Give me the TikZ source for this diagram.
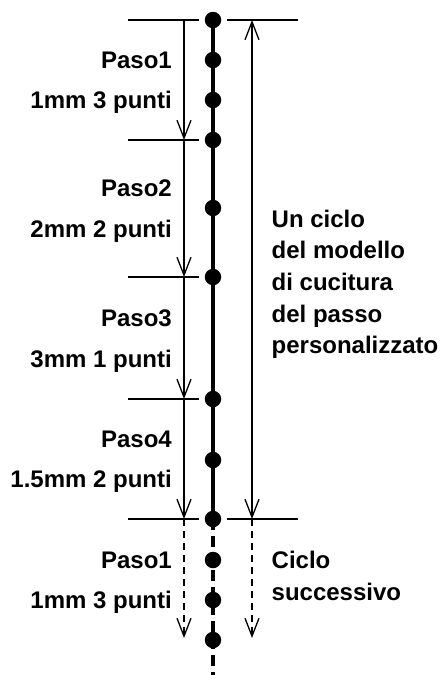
\documentclass[tikz,border=0pt]{standalone}
\usepackage{fontspec}
\setmainfont{Liberation Sans}
\usetikzlibrary{arrows.meta}
\begin{document}
\begin{tikzpicture}[x=1pt,y=-1pt,
  lbl/.style={inner sep=0pt,font=\bfseries\fontsize{24}{28}\selectfont},
  lt/.style={lbl,anchor=base east},
  rt/.style={lbl,anchor=base west},
  stitch/.style={circle,fill=black,inner sep=0pt,minimum size=16.5pt},
  tick/.style={line width=1.3pt},
  dim/.style={line width=1.3pt,-{Straight Barb[length=18pt,width=14pt,line width=1.3pt]}},
  dimboth/.style={line width=1.3pt,{Straight Barb[length=18pt,width=14pt,line width=1.3pt]}-{Straight Barb[length=18pt,width=14pt,line width=1.3pt]}},
  dimdash/.style={dim,dash pattern=on 7pt off 5pt},
  seam/.style={line width=3.6pt},
  seamdash/.style={line width=3.6pt,dash pattern=on 11pt off 6pt}]
\useasboundingbox (0,0) rectangle (441,675);
% seam
\coordinate (send) at (213,675);
\node[stitch] (s1) at (213,20) {};
\node[stitch] (s2) at (213,60) {};
\node[stitch] (s3) at (213,100) {};
\node[stitch] (s4) at (213,140) {};
\node[stitch] (s5) at (213,208) {};
\node[stitch] (s6) at (213,277) {};
\node[stitch] (s7) at (213,399) {};
\node[stitch] (s8) at (213,460) {};
\node[stitch] (s9) at (213,519) {};
\node[stitch] (s10) at (213,560) {};
\node[stitch] (s11) at (213,600) {};
\node[stitch] (s12) at (213,640) {};
\draw[seam] (s1.center) -- (s9.center);
\draw[seamdash] (s9.center) -- (send);
% ticks
\foreach \n/\y in {a/20,b/140,c/277,d/399,e/519}{
  \coordinate (tl\n) at (128,\y);
  \coordinate (tr\n) at (199,\y);
  \draw[tick] (tl\n) -- (tr\n);
}
\coordinate (ra1) at (227,20); \coordinate (ra2) at (298,20);
\coordinate (rb1) at (227,519); \coordinate (rb2) at (298,519);
\draw[tick] (ra1) -- (ra2);
\draw[tick] (rb1) -- (rb2);
% left dimension arrows
\coordinate (L0) at (184,20);
\coordinate (L1) at (184,140);
\coordinate (L2) at (184,277);
\coordinate (L3) at (184,399);
\coordinate (L4) at (184,519);
\coordinate (L5) at (184,638);
\draw[dim] (L0) -- (L1);
\draw[dim] (L1) -- (L2);
\draw[dim] (L2) -- (L3);
\draw[dim] (L3) -- (L4);
\draw[dimdash] (L4) -- (L5);
% right dimension arrows
\coordinate (R0) at (252,20);
\coordinate (R1) at (252,519);
\coordinate (R2) at (252,638);
\draw[dimboth] (R0) -- (R1);
\draw[dimdash] (R1) -- (R2);
% left labels
\node[lt] (p1) at (172,68) {Paso1};
\node[lt] (q1) at (172,108) {1mm 3 punti};
\node[lt] (p2) at (172,196) {Paso2};
\node[lt] (q2) at (172,237) {2mm 2 punti};
\node[lt] (p3) at (172,326) {Paso3};
\node[lt] (q3) at (172,367) {3mm 1 punti};
\node[lt] (p4) at (172,447) {Paso4};
\node[lt] (q4) at (172,487) {1.5mm 2 punti};
\node[lt] (p5) at (172,568) {Paso1};
\node[lt] (q5) at (172,608) {1mm 3 punti};
% right labels
\node[rt] (c1) at (271.5,227) {Un ciclo};
\node[rt] (c2) at (271.5,258) {del modello};
\node[rt] (c3) at (271.5,290) {di cucitura};
\node[rt] (c4) at (271.5,322) {del passo};
\node[rt] (c5) at (271.5,353) {personalizzato};
\node[rt] (n1) at (271.5,568) {Ciclo};
\node[rt] (n2) at (271.5,600) {successivo};
\end{tikzpicture}
\end{document}
